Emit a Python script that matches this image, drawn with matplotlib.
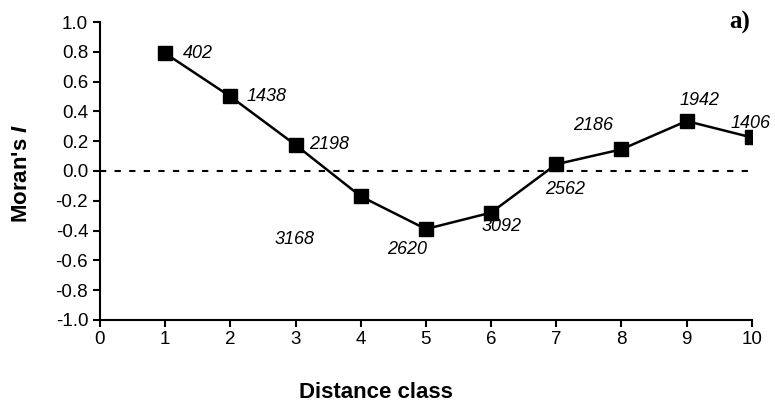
import matplotlib
matplotlib.use("Agg")
import matplotlib.pyplot as plt

distance_class = [1, 2, 3, 4, 5, 6, 7, 8, 9, 10]
morans_i = [0.79, 0.50, 0.175, -0.17, -0.39, -0.28, 0.045, 0.145, 0.335, 0.225]
pair_counts = ["402", "1438", "2198", "3168", "2620", "3092", "2562", "2186", "1942", "1406"]
# label offsets in points relative to each marker (left edge of text)
label_offsets = [(13, 0), (11.5, 0), (10, 0), (-62, -31), (-28, -15), (-6.5, -10),
                 (-8, -18), (-35, 17), (-5, 15), (-15, 10)]

plt.rcParams["font.family"] = ["Liberation Sans", "DejaVu Sans"]
plt.rcParams["mathtext.fontset"] = "custom"
plt.rcParams["mathtext.bfit"] = "Liberation Sans:italic:bold"
plt.rcParams["mathtext.it"] = "Liberation Sans:italic"

fig = plt.figure(figsize=(7.75, 4.08), dpi=100)
ax = fig.add_axes([0.129, 0.216, 0.841, 0.730])

ax.axhline(0, color="black", lw=1.5, ls=(0, (3, 4)), zorder=1)
ax.plot(distance_class, morans_i, color="black", lw=1.8, marker="s", markersize=9.5, zorder=3)

for x, y, txt, off in zip(distance_class, morans_i, pair_counts, label_offsets):
    ax.annotate(txt, (x, y), xytext=off, textcoords="offset points",
                fontsize=13, style="italic", ha="left", va="center")

ax.set_xlim(0, 10)
ax.set_ylim(-1.0, 1.0)
ax.set_xticks(range(0, 11))
ax.set_yticks([i / 10 for i in range(-10, 11, 2)])
ax.set_yticklabels([f"{v / 10:.1f}" for v in range(-10, 11, 2)])
ax.tick_params(labelsize=13.5, width=1.5, length=5, direction="out")
ax.tick_params(axis="x", pad=3)
for side in ["top", "right"]:
    ax.spines[side].set_visible(False)
for side in ["left", "bottom"]:
    ax.spines[side].set_linewidth(1.5)

ax.set_xlabel("Distance class", fontsize=16, fontweight="bold")
ax.xaxis.set_label_coords(0.423, -0.208)
fig.text(22 / 775, 1 - 173 / 408, r"Moran's $\mathbfit{I}$", fontsize=16, fontweight="bold",
         rotation=90, ha="center", va="center")
fig.text(0.955, 0.945, "a)", fontsize=18, fontweight="bold", family="Liberation Serif",
         ha="center", va="center")

fig.savefig("out.png", dpi=100)
